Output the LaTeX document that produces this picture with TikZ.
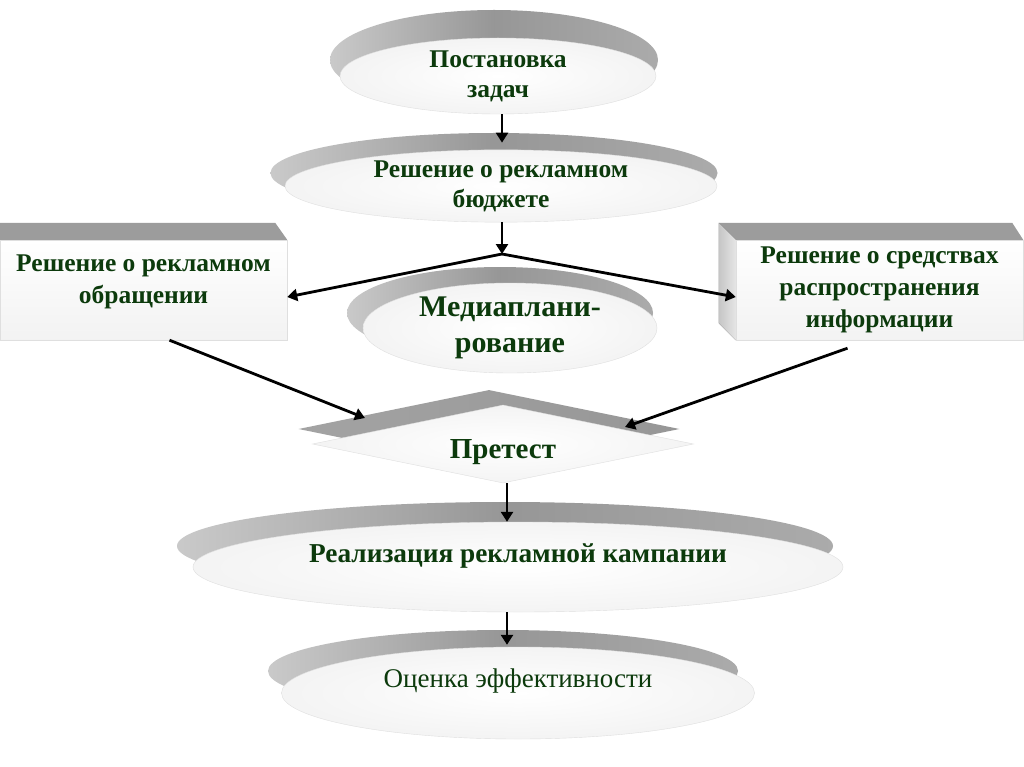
\documentclass[tikz,border=0pt]{standalone}
\usepackage{fontspec}
\setmainfont{Liberation Serif}
\usetikzlibrary{shapes.geometric,shadows,arrows.meta}

\definecolor{txtgreen}{RGB}{12,58,12}

\begin{document}
\begin{tikzpicture}[x=1pt,y=-1pt]
    \tikzstyle{lid}=[ellipse, inner sep=0pt, left color=gray!42, right color=gray!66,
        middle color=gray!82]
    \tikzstyle{face}=[inner sep=0pt, draw=gray!25, line width=0.4pt,
        inner color=white, outer color=gray!9, text=txtgreen, align=center,
        font=\bfseries\fontsize{25.5}{30}\selectfont]
    \tikzstyle{disc}=[face, ellipse]
    \tikzstyle{slab}=[rectangle, inner sep=0pt, draw=gray!25, line width=0.4pt,
        top color=white, bottom color=gray!10, text=txtgreen, align=center,
        minimum width=287pt, minimum height=100pt,
        font=\bfseries\fontsize{25.5}{32}\selectfont]
    \tikzstyle{arr}=[-{Triangle[length=10pt,width=12pt]}, line width=2.8pt]

    \fill[white] (0,0) rectangle (1024,767);
    \useasboundingbox (0,0) rectangle (1024,767);

    % grey rims behind the discs
    \node[lid, minimum width=328pt, minimum height=100pt] (postlid) at (494,60) {};
    \node[lid, minimum width=447pt, minimum height=80pt] (budglid) at (494,173) {};
    \node[lid, minimum width=306pt, minimum height=92pt] (medialid) at (500,313) {};
    \node[lid, minimum width=656pt, minimum height=88pt] (reallid) at (505,546) {};
    \node[lid, minimum width=470pt, minimum height=82pt] (ocenlid) at (503,671) {};

    % main chain
    \node[disc, minimum width=316pt, minimum height=76pt]
        (post) at (498,76) {Постановка\\задач};
    \node[disc, minimum width=432pt, minimum height=72pt]
        (budg) at (501,186) {Решение о рекламном\\бюджете};
    \coordinate (split) at (502,254);

    % side boxes
    \node[slab, text depth=22pt] (obr) at (143.5,290) {Решение о рекламном\\обращении};
    \node[slab] (sred) at (879.5,290) {Решение о средствах\\распространения\\информации};
    \fill[gray!78] (obr.north west) -- ++(0,-17) -- ([shift={(-12,-17)}]obr.north east)
        -- (obr.north east) -- cycle;
    \fill[gray!78] (sred.north west) -- ++(-17,-17) -- ([shift={(-11,-17)}]sred.north east)
        -- (sred.north east) -- cycle;
    \fill[left color=gray!45, right color=gray!20] (sred.north west) -- ++(-17,-17)
        -- ([shift={(-17,-17)}]sred.south west) -- (sred.south west) -- cycle;

    \node[disc, minimum width=294pt, minimum height=90pt,
        font=\bfseries\fontsize{30}{36}\selectfont]
        (media) at (510,328) {Медиаплани-\\рование};
    \node[face, diamond, aspect=4, minimum width=381pt, minimum height=78pt, text height=36pt,
        general shadow={shadow xshift=-14pt, shadow yshift=15pt, left color=gray!72,
            right color=gray!82},
        font=\bfseries\fontsize{29}{30}\selectfont]
        (pretest) at (503,444) {Претест};
    \node[disc, minimum width=650pt, minimum height=90pt, text depth=28pt,
        font=\bfseries\fontsize{27.3}{30}\selectfont]
        (real) at (518,567) {Реализация рекламной кампании};
    \node[disc, minimum width=473pt, minimum height=92pt, text depth=30pt,
        font=\fontsize{27}{30}\selectfont]
        (ocen) at (518,693) {Оценка эффективности};

    % connectors
    \draw[arr] (post.south -| split) -- ([yshift=7pt]budg.north -| split);
    \draw[arr] (budg.south -| split) -- (split);
    \draw[arr] (split) -- ([yshift=-7pt]obr.east);
    \draw[arr] (split) -- ([yshift=-7pt]sred.west);
    \draw[arr] ([xshift=26pt]obr.south) -- ([shift={(-138,-26)}]pretest.center);
    \draw[arr] ([shift={(-32,8)}]sred.south) -- ([shift={(122,-17)}]pretest.center);
    \draw[arr] ([xshift=4pt]pretest.south) -- ([xshift=4pt]pretest.south |- real.north);
    \draw[arr] ([xshift=-11pt]real.south) -- ([xshift=-11pt,yshift=2pt]ocen.north);
\end{tikzpicture}
\end{document}
